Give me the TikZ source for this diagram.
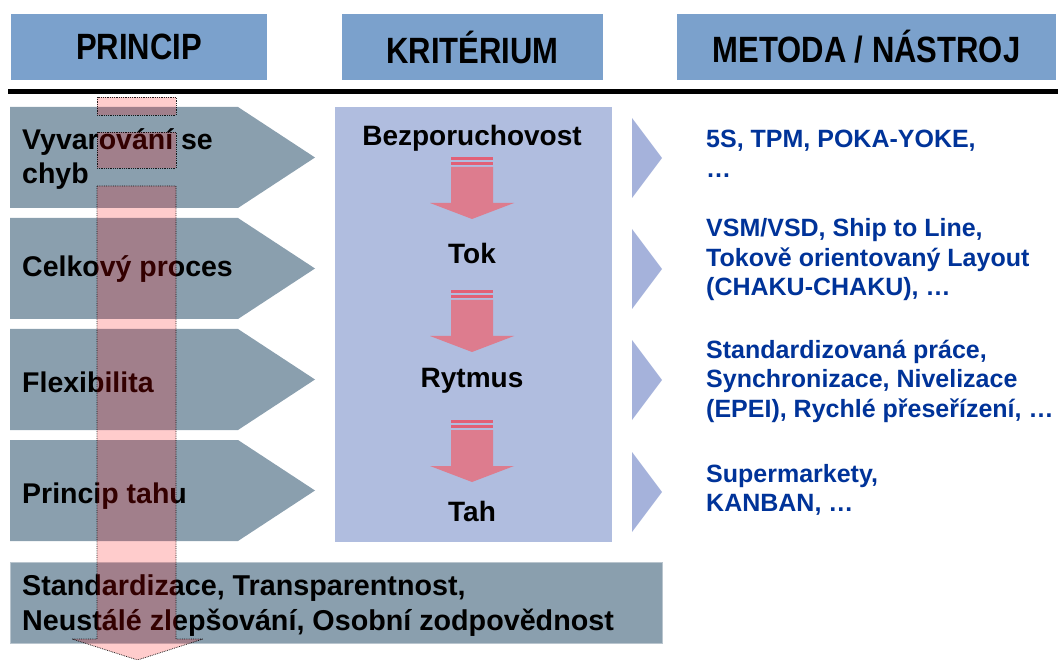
\documentclass[tikz,border=0pt]{standalone}
\usepackage{fontspec}
\setmainfont{Liberation Sans}
\usetikzlibrary{positioning}

\definecolor{headblue}{RGB}{123,161,204}
\definecolor{principgray}{RGB}{138,159,174}
\definecolor{kritblue}{RGB}{176,189,223}
\definecolor{triblue}{RGB}{165,178,219}
\definecolor{metodablue}{RGB}{0,51,153}
\definecolor{flowred}{RGB}{221,124,142}
\definecolor{stripered}{RGB}{226,96,118}

\begin{document}
\begin{tikzpicture}[x=1pt,y=-1pt,
    header/.style={fill=headblue,inner sep=0,font=\fontsize{31}{36}\selectfont\bfseries},
    princip/.style={anchor=west,align=left,inner sep=0,font=\fontsize{28.5}{34}\selectfont\bfseries},
    krit/.style={inner sep=0,font=\fontsize{28}{34}\selectfont\bfseries},
    metoda/.style={anchor=west,align=left,inner sep=0,text=metodablue,font=\fontsize{25}{29.5}\selectfont\bfseries},
    bigflow/.style={fill=red,fill opacity=0.2,draw=black,draw opacity=0.85,densely dotted,line width=0.8}]

    \useasboundingbox (0,0) rectangle (1058,660);

    % column headers
    \node[header,minimum width=256,minimum height=66] (hprincip) at (139,47) {\scalebox{1}[1.18]{PRINCIP}};
    \node[header,minimum width=261,minimum height=66] (hkrit) at (472.5,47) {\scalebox{1}[1.18]{KRITÉRIUM}};
    \node[header,minimum width=379,minimum height=66] (hmetoda) at (866.5,47) {\scalebox{1}[1.18]{METODA / NÁSTROJ}};

    % rule under the headers
    \draw[line width=4.5] (8,91.5) -- (1058,91.5);

    % principles (chevrons)
    \foreach \t/\ty/\lbl [count=\i] in {107/159/{Vyvarování se\\chyb},218/269/{Celkový proces},329/382/{Flexibilita},440/496/{Princip tahu}} {
        \fill[principgray] (10,\t) -- (238,\t) -- (315,\t+50.5) -- (238,\t+101) -- (10,\t+101) -- cycle;
        \node[princip] (p\i) at (22,\ty) {\lbl};
    }

    % base
    \node[fill=principgray,draw=principgray!60!white,line width=1,minimum width=652,minimum height=81,anchor=north west,inner sep=0] (base) at (10,562) {};
    \node[princip,font=\fontsize{28.7}{35}\selectfont\bfseries] (basetext) at (22,606) {Standardizace, Transparentnost,\\Neustálé zlepšování, Osobní zodpovědnost};

    % criteria
    \node[fill=kritblue,minimum width=277,minimum height=435,anchor=north west,inner sep=0] (kritbox) at (335,107) {};
    \node[krit] (k1) at (472,138) {Bezporuchovost};
    \node[krit] (k2) at (472,253) {Tok};
    \node[krit] (k3) at (472,381) {Rytmus};
    \node[krit] (k4) at (472,511) {Tah};

    \foreach \s in {157,290,420} {
        \fill[stripered] (451,\s) rectangle (493,\s+3);
        \fill[stripered] (451,\s+5) rectangle (493,\s+8);
        \fill[flowred] (451,\s+10) -- (493,\s+10) -- (493,\s+46) -- (514,\s+46) -- (472,\s+62) -- (430,\s+46) -- (451,\s+46) -- cycle;
    }

    % methods / tools
    \foreach \t in {118,229,340,452}
        \fill[triblue] (632,\t) -- (662,\t+40) -- (632,\t+80) -- cycle;

    \node[metoda] (m1) at (706,154) {5S, TPM, POKA-YOKE,\\…};
    \node[metoda] (m2) at (706,260) {VSM/VSD, Ship to Line,\\Tokově orientovaný Layout\\(CHAKU-CHAKU), …};
    \node[metoda] (m3) at (706,381) {Standardizovaná práce,\\Synchronizace, Nivelizace\\(EPEI), Rychlé přeseřízení, …};
    \node[metoda] (m4) at (706,490) {Supermarkety,\\KANBAN, …};

    % big arrow down the principles
    \draw[bigflow] (97,97) rectangle (176,115);
    \draw[bigflow] (97,132) rectangle (176,168);
    \draw[bigflow] (97,186) -- (176,186) -- (176,639) -- (203,639) -- (137.5,660) -- (72,639) -- (97,639) -- cycle;

\end{tikzpicture}
\end{document}
